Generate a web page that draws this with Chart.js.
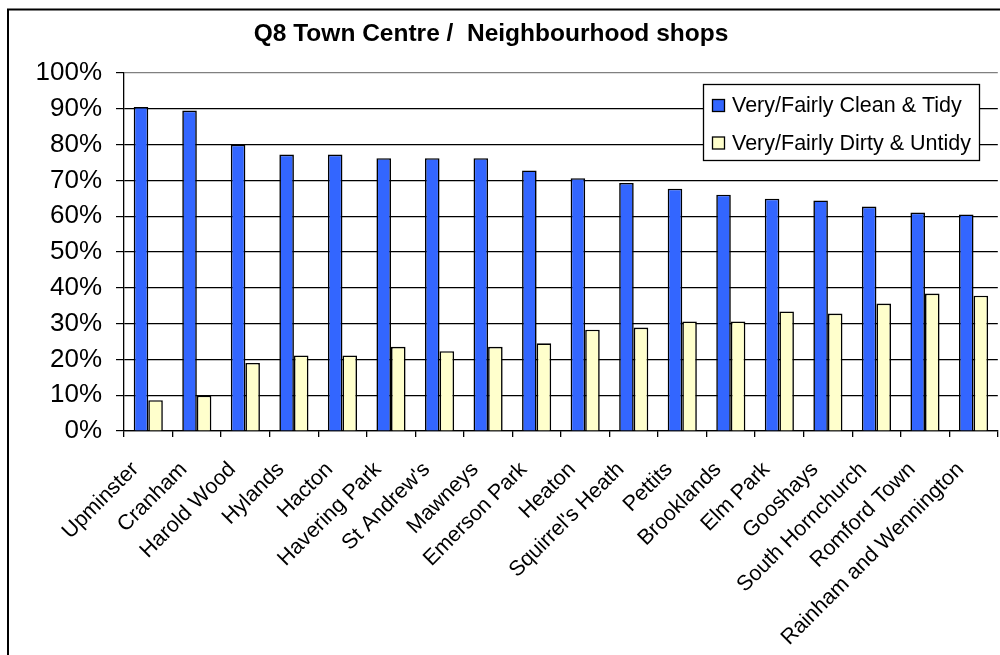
<!DOCTYPE html>
<html>
<head>
<meta charset="utf-8">
<script src="https://cdn.jsdelivr.net/npm/chart.js@4.4.1/dist/chart.umd.min.js"></script>
<style>
  html, body { margin: 0; padding: 0; background: #fff; overflow: hidden; }
  #wrap { width: 1000px; height: 655px; overflow: hidden; position: relative; }
  canvas { display: block; }
</style>
</head>
<body>
<div id="wrap"><canvas id="c" width="1012" height="655"></canvas></div>
<script>
const titleText = 'Q8 Town Centre /  Neighbourhood shops';
const categories = ['Upminster', 'Cranham', 'Harold Wood', 'Hylands', 'Hacton', 'Havering Park',
  "St Andrew's", 'Mawneys', 'Emerson Park', 'Heaton', "Squirrel's Heath", 'Pettits',
  'Brooklands', 'Elm Park', 'Gooshays', 'South Hornchurch', 'Romford Town', 'Rainham and Wennington'];
const seriesNames = ['Very/Fairly Clean & Tidy', 'Very/Fairly Dirty & Untidy'];
const cleanTidy = [90.5, 89.5, 80.0, 77.2, 77.2, 76.2, 76.2, 76.2, 72.8, 70.6, 69.3, 67.7, 66.0, 64.9, 64.4, 62.7, 61.0, 60.5];
const dirtyUntidy = [8.6, 9.9, 19.0, 21.1, 21.1, 23.5, 22.3, 23.5, 24.5, 28.3, 28.9, 30.6, 30.6, 33.4, 32.8, 35.6, 38.4, 37.8];
const yTicks = [0, 10, 20, 30, 40, 50, 60, 70, 80, 90, 100];

const FONT = "'Liberation Sans', Arial, sans-serif";

const frameAndTitle = {
  id: 'frameAndTitle',
  beforeDraw(chart) {
    const ctx = chart.ctx;
    ctx.save();
    ctx.fillStyle = '#fff';
    ctx.fillRect(0, 0, chart.width, chart.height);
    ctx.restore();
  },
  afterDraw(chart) {
    const ctx = chart.ctx;
    ctx.save();
    // outer frame
    ctx.strokeStyle = '#000';
    ctx.lineWidth = 2;
    ctx.strokeRect(8, 9.5, chart.width + 20, chart.height + 20);
    // title
    ctx.fillStyle = '#000';
    ctx.font = 'bold 24.5px ' + FONT;
    ctx.textAlign = 'center';
    ctx.textBaseline = 'alphabetic';
    ctx.fillText(titleText, 491, 41);
    // legend
    const bx = 703.5, by = 84.5, bw = 276, bh = 76;
    ctx.fillStyle = '#fff';
    ctx.fillRect(bx, by, bw, bh);
    ctx.strokeStyle = '#000';
    ctx.lineWidth = 1.3;
    ctx.strokeRect(bx, by, bw, bh);
    ctx.font = '21.5px ' + FONT;
    ctx.textAlign = 'left';
    chart.data.datasets.forEach((ds, i) => {
      const sy = 99.5 + i * 37.5;
      ctx.fillStyle = ds.backgroundColor;
      ctx.fillRect(712.5, sy, 12, 12);
      ctx.strokeStyle = '#000';
      ctx.strokeRect(712.5, sy, 12, 12);
      ctx.fillStyle = '#000';
      ctx.fillText(ds.label, 732, 112 + i * 37.5);
    });
    ctx.restore();
  }
};

new Chart(document.getElementById('c'), {
  type: 'bar',
  data: {
    labels: categories,
    datasets: [
      { label: seriesNames[0], data: cleanTidy, backgroundColor: '#3366FF', borderColor: '#000', borderWidth: 1.6 },
      { label: seriesNames[1], data: dirtyUntidy, backgroundColor: '#FFFFCC', borderColor: '#000', borderWidth: 1.6 }
    ]
  },
  options: {
    responsive: false,
    animation: false,
    devicePixelRatio: 1,
    layout: { padding: { left: 0, right: 8, top: 73, bottom: 0 } },
    plugins: { legend: { display: false }, title: { display: false }, tooltip: { enabled: false } },
    datasets: { bar: { categoryPercentage: 0.6, barPercentage: 1.0 } },
    scales: {
      x: {
        offset: true,
        grid: { display: true, drawOnChartArea: false, drawTicks: true, tickLength: 6, color: '#000', lineWidth: 1.3, offset: true },
        border: { display: true, color: '#000', width: 1.3 },
        ticks: {
          autoSkip: false, minRotation: 45, maxRotation: 45, padding: 20, labelOffset: -13,
          color: '#000', font: { family: FONT, size: 21.5 }
        },
        afterFit(scale) { scale.height = 224; }
      },
      y: {
        min: 0, max: 100,
        afterBuildTicks(scale) { scale.ticks = yTicks.map(v => ({ value: v })); },
        grid: {
          color: (c) => (c.tick && c.tick.value === 100 ? '#808080' : '#000'),
          tickColor: '#000', tickLength: 8, lineWidth: 1.2
        },
        border: { display: true, color: '#000', width: 1.3 },
        ticks: {
          padding: 14, color: '#000', font: { family: FONT, size: 26 },
          callback: (v) => v + '%'
        },
        afterFit(scale) { scale.width = 124; }
      }
    }
  },
  plugins: [frameAndTitle]
});
</script>
</body>
</html>
